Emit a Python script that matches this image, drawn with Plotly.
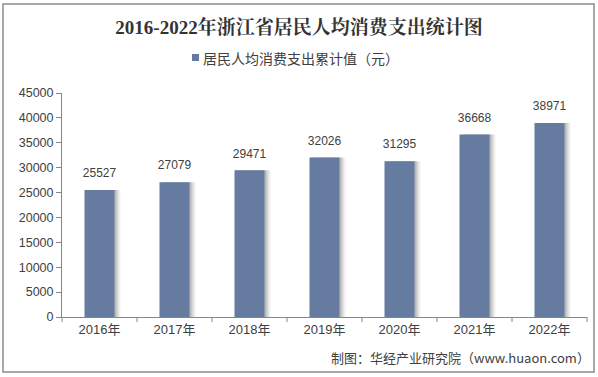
import plotly.graph_objects as go

years = ["2016年", "2017年", "2018年", "2019年", "2020年", "2021年", "2022年"]
values = [25527, 27079, 29471, 32026, 31295, 36668, 38971]
y_ticks = [0, 5000, 10000, 15000, 20000, 25000, 30000, 35000, 40000, 45000]
series_name = "居民人均消费支出累计值（元）"

W, H = 598, 377
L, R, T, B = 62, 11, 93, 60
pw, ph = W - L - R, H - T - B

def px(x):
    return (x - L) / pw

def py(y):
    return (H - B - y) / ph

sans = "Liberation Sans, Arial, Noto Sans CJK SC"
cjk = "Noto Sans CJK SC, Liberation Sans"
bar_color = "#667ba0"
bw = 0.4
cat_px = pw / len(years)

fig = go.Figure()
# soft shadow layers
for shift, alpha in [(6, 0.06), (4, 0.10), (2, 0.14)]:
    fig.add_trace(go.Bar(
        x=years, y=values, width=bw, offset=-bw / 2 + shift / cat_px,
        marker=dict(color=f"rgba(0,0,0,{alpha})", line=dict(width=0)),
        showlegend=False, hoverinfo="skip",
    ))
fig.add_trace(go.Bar(
    x=years, y=values, name=series_name,
    marker=dict(color=bar_color, line=dict(width=0)),
    width=bw, offset=-bw / 2, showlegend=False,
))
fig.add_trace(go.Scatter(
    x=years, y=values, mode="markers+text",
    marker=dict(size=14, opacity=0),
    text=[str(v) for v in values], textposition="top center",
    textfont=dict(family=sans, size=12, color="#404040"),
    cliponaxis=False, showlegend=False, hoverinfo="skip",
))

fig.update_layout(
    width=W, height=H,
    margin=dict(l=L, r=R, t=T, b=B, autoexpand=False),
    paper_bgcolor="white", plot_bgcolor="white",
    showlegend=False, barmode="overlay",
    title=dict(text="<b>2016-2022年浙江省居民人均消费支出统计图</b>",
               x=0.5, xanchor="center", y=1 - 27 / H, yanchor="middle",
               font=dict(family="Liberation Serif, Noto Serif CJK SC, Noto Sans CJK SC", size=19, color="#333333")),
    font=dict(family=sans, color="#404040"),
)

fig.update_xaxes(
    showline=True, linecolor="#868686", linewidth=1,
    ticks="", showgrid=False, automargin=False,
    tickfont=dict(family=sans, size=13, color="#404040"),
)
fig.update_yaxes(
    range=[0, 45000], tickvals=y_ticks, tickformat="d", showline=True, linecolor="#868686", linewidth=1,
    ticks="outside", ticklen=5, tickcolor="#868686", showgrid=False, automargin=False,
    tickfont=dict(family=sans, size=12.5, color="#404040"), zeroline=False,
)

# category boundary tick marks on x-axis
for i in range(len(years) + 1):
    xp = i / len(years)
    fig.add_shape(type="line", xref="paper", yref="paper", x0=xp, x1=xp,
                  y0=0, y1=-5 / ph, line=dict(color="#868686", width=1))

# manual legend
fig.add_shape(type="rect", xref="paper", yref="paper",
              x0=px(192), x1=px(199), y0=py(61), y1=py(54),
              line=dict(width=0), fillcolor=bar_color)
fig.add_annotation(text=series_name, xref="paper", yref="paper",
                   x=px(201), xanchor="left", y=py(58), yanchor="middle", showarrow=False,
                   font=dict(family=cjk, size=14, color="#404040"))

# outer border
fig.add_shape(type="rect", xref="paper", yref="paper",
              x0=px(3), x1=px(594), y0=py(372), y1=py(4),
              line=dict(color="#8c8c8c", width=1.5))

fig.add_annotation(text="制图：华经产业研究院（www.huaon.com）", xref="paper", yref="paper",
                   x=px(592), xanchor="right", y=py(357), yanchor="middle", showarrow=False,
                   font=dict(family=cjk, size=13, color="#404040"))

fig.write_html("out.html", config={"displayModeBar": False},
               post_script="document.body.style.margin='0';document.body.style.padding='0';")
